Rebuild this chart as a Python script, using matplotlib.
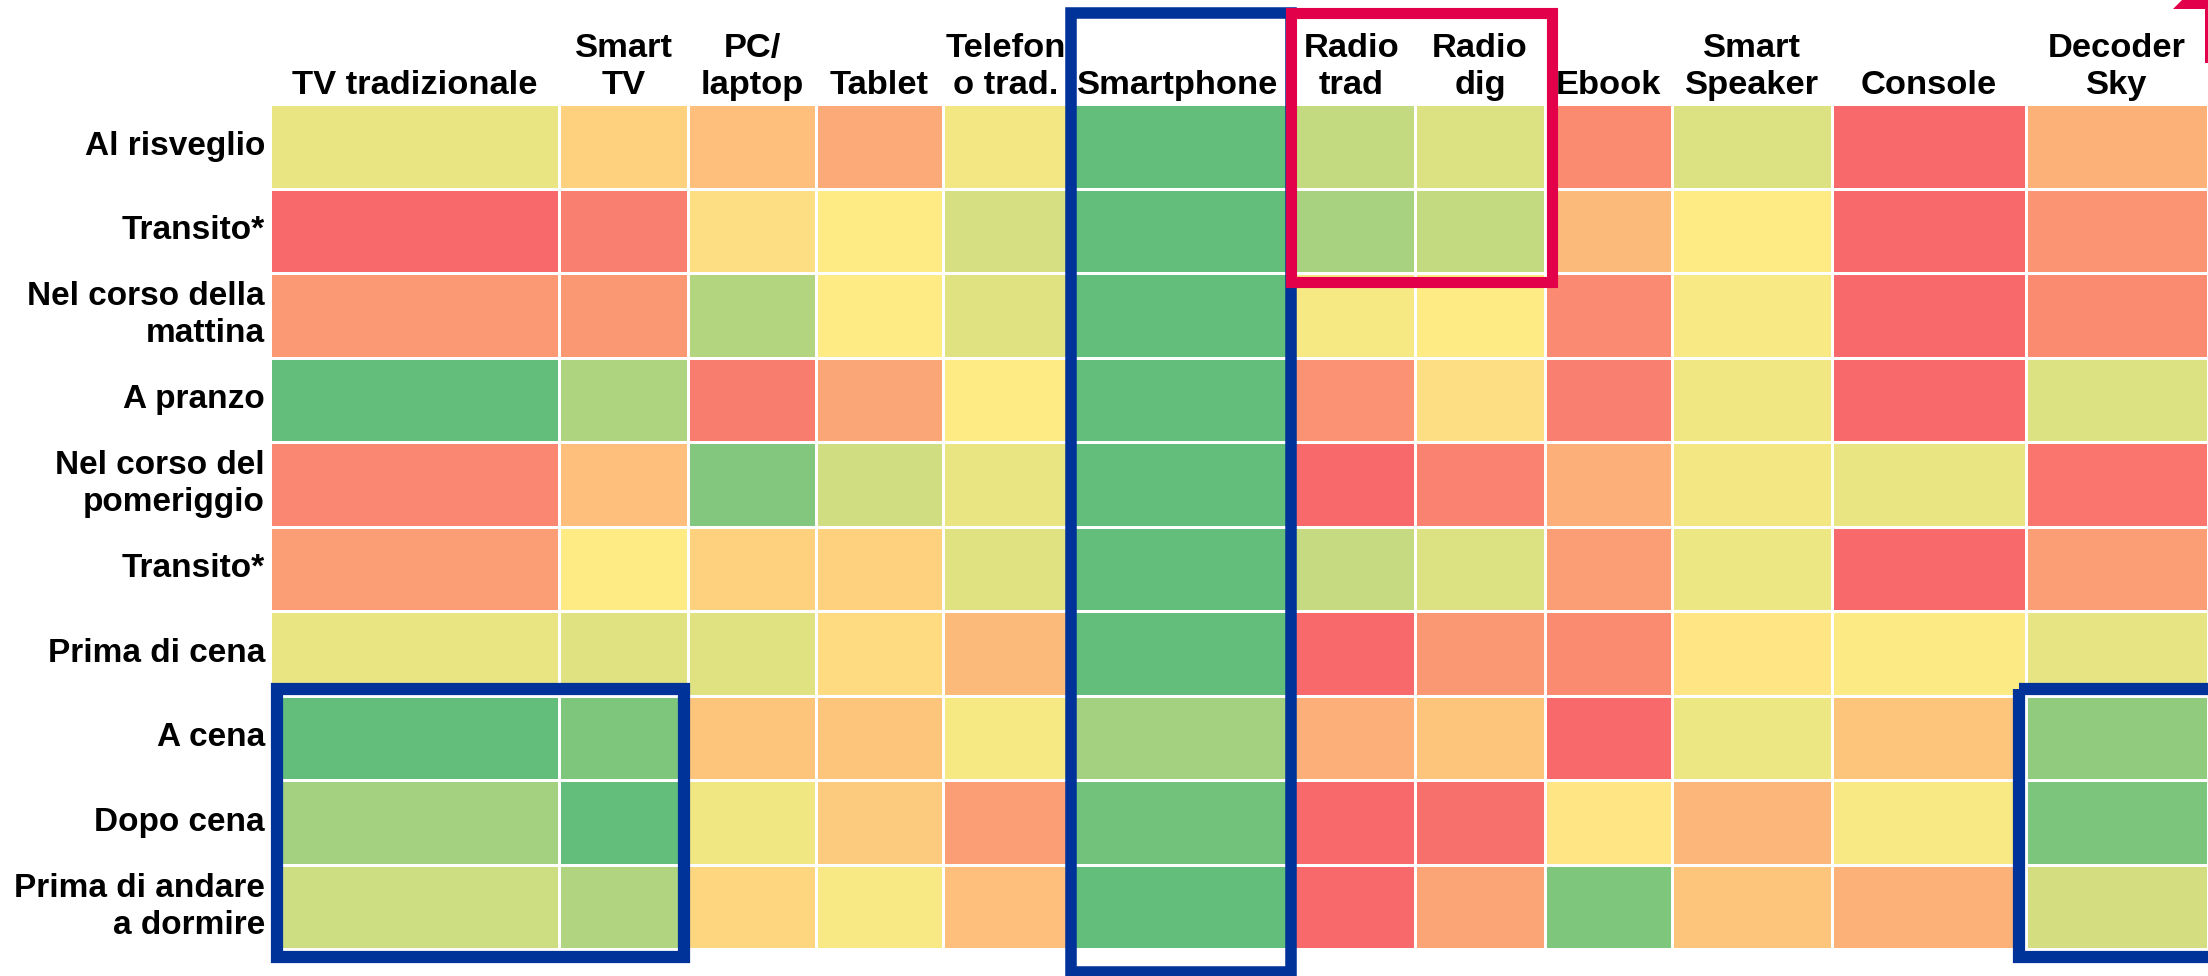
import numpy as np
import matplotlib.pyplot as plt
from matplotlib.colors import LinearSegmentedColormap
from matplotlib.patches import Rectangle, Polygon

plt.rcParams['font.family'] = ['Liberation Sans', 'DejaVu Sans']

devices = ['TV tradizionale', 'Smart\nTV', 'PC/\nlaptop', 'Tablet', 'Telefon\no trad.',
           'Smartphone', 'Radio\ntrad', 'Radio\ndig', 'Ebook', 'Smart\nSpeaker',
           'Console', 'Decoder\nSky']
moments = ['Al risveglio', 'Transito*', 'Nel corso della\nmattina', 'A pranzo',
           'Nel corso del\npomeriggio', 'Transito*', 'Prima di cena', 'A cena',
           'Dopo cena', 'Prima di andare\na dormire']

# usage index per device, 0 = lowest (red) .. 1 = highest (green), one value per moment
tv_trad = [0.57, 0.0, 0.185, 1.0, 0.115, 0.2, 0.57, 1.0, 0.79, 0.66]
smart_tv = [0.40, 0.09, 0.18, 0.76, 0.33, 0.5, 0.6, 0.91, 1.0, 0.75]
pc_laptop = [0.33, 0.45, 0.74, 0.08, 0.90, 0.4, 0.6, 0.35, 0.55, 0.42]
tablet = [0.25, 0.5, 0.5, 0.235, 0.65, 0.4, 0.44, 0.35, 0.375, 0.52]
telefono = [0.54, 0.63, 0.6, 0.5, 0.57, 0.6, 0.31, 0.53, 0.2, 0.33]
smartphone = [1.0, 1.0, 1.0, 1.0, 1.0, 1.0, 1.0, 0.79, 0.95, 1.0]
radio_trad = [0.69, 0.78, 0.53, 0.16, 0.0, 0.68, 0.0, 0.27, 0.0, 0.0]
radio_dig = [0.61, 0.69, 0.5, 0.45, 0.1, 0.61, 0.18, 0.35, 0.03, 0.23]
ebook = [0.13, 0.31, 0.125, 0.09, 0.27, 0.2, 0.13, 0.0, 0.48, 0.91]
smart_speaker = [0.61, 0.5, 0.52, 0.55, 0.54, 0.56, 0.48, 0.56, 0.3, 0.35]
console = [0.0, 0.0, 0.0, 0.0, 0.57, 0.0, 0.51, 0.35, 0.52, 0.28]
decoder_sky = [0.28, 0.165, 0.13, 0.61, 0.05, 0.2, 0.58, 0.85, 0.92, 0.64]

Z = np.column_stack([tv_trad, smart_tv, pc_laptop, tablet, telefono, smartphone,
                     radio_trad, radio_dig, ebook, smart_speaker, console, decoder_sky])

# column widths in pixels (the original table has uneven columns)
col_w = [289, 129, 128, 127, 125, 220, 127, 130, 127, 160, 194, 182]
xedges = np.concatenate([[0], np.cumsum(col_w)])
yedges = np.arange(len(moments) + 1)

cmap = LinearSegmentedColormap.from_list('ryg', ['#F8696B', '#FFEB84', '#63BE7B'])

W, H = 2208, 976
fig = plt.figure(figsize=(W / 100, H / 100), dpi=100)
ax = fig.add_axes([270 / W, 27 / H, xedges[-1] / W, 845 / H])
ax.pcolormesh(xedges, yedges, Z, cmap=cmap, vmin=0, vmax=1,
              edgecolors='white', linewidth=2)
ax.set_xlim(0, xedges[-1])
ax.set_ylim(len(moments), 0)
ax.axis('off')

txt = dict(fontweight='bold', color='black', linespacing=1.25)
for i, name in enumerate(devices):
    xc = (xedges[i] + xedges[i + 1]) / 2
    ax.text(xc, -0.03, name, ha='center', va='bottom', multialignment='center',
            fontsize=24.8, clip_on=False, **txt)
for j, name in enumerate(moments):
    ax.text(-5, j + 0.5, name, ha='right', va='center', multialignment='right',
            fontsize=24, clip_on=False, **txt)

blue = '#003399'
red = '#E2004A'
boxes = [
    (xedges[5] + 3, -1.077, col_w[5], 11.35, blue, 8.3),
    (7, 6.92, xedges[2] - 11, 3.17, blue, 8.8),
    (xedges[11] - 7, 6.92, 220, 3.17, blue, 8.8),
    (xedges[6] + 3, -1.077, xedges[8] - xedges[6] + 4, 3.184, red, 8.0),
]
for x0, y0, w, h, c, lw in boxes:
    ax.add_patch(Rectangle((x0, y0), w, h, fill=False, ec=c, lw=lw,
                           joinstyle='miter', clip_on=False,
                           zorder=4 if c == red else 3))

# corner of a red frame cut by the right edge
corner = [(2173, 9), (2182, 0), (2208, 0), (2208, 63), (2205, 63), (2205, 9)]
fig.patches.append(Polygon([(x / W, 1 - y / H) for x, y in corner],
                           closed=True, fc=red, ec='none',
                           transform=fig.transFigure))

fig.savefig('out.png', dpi=100)
